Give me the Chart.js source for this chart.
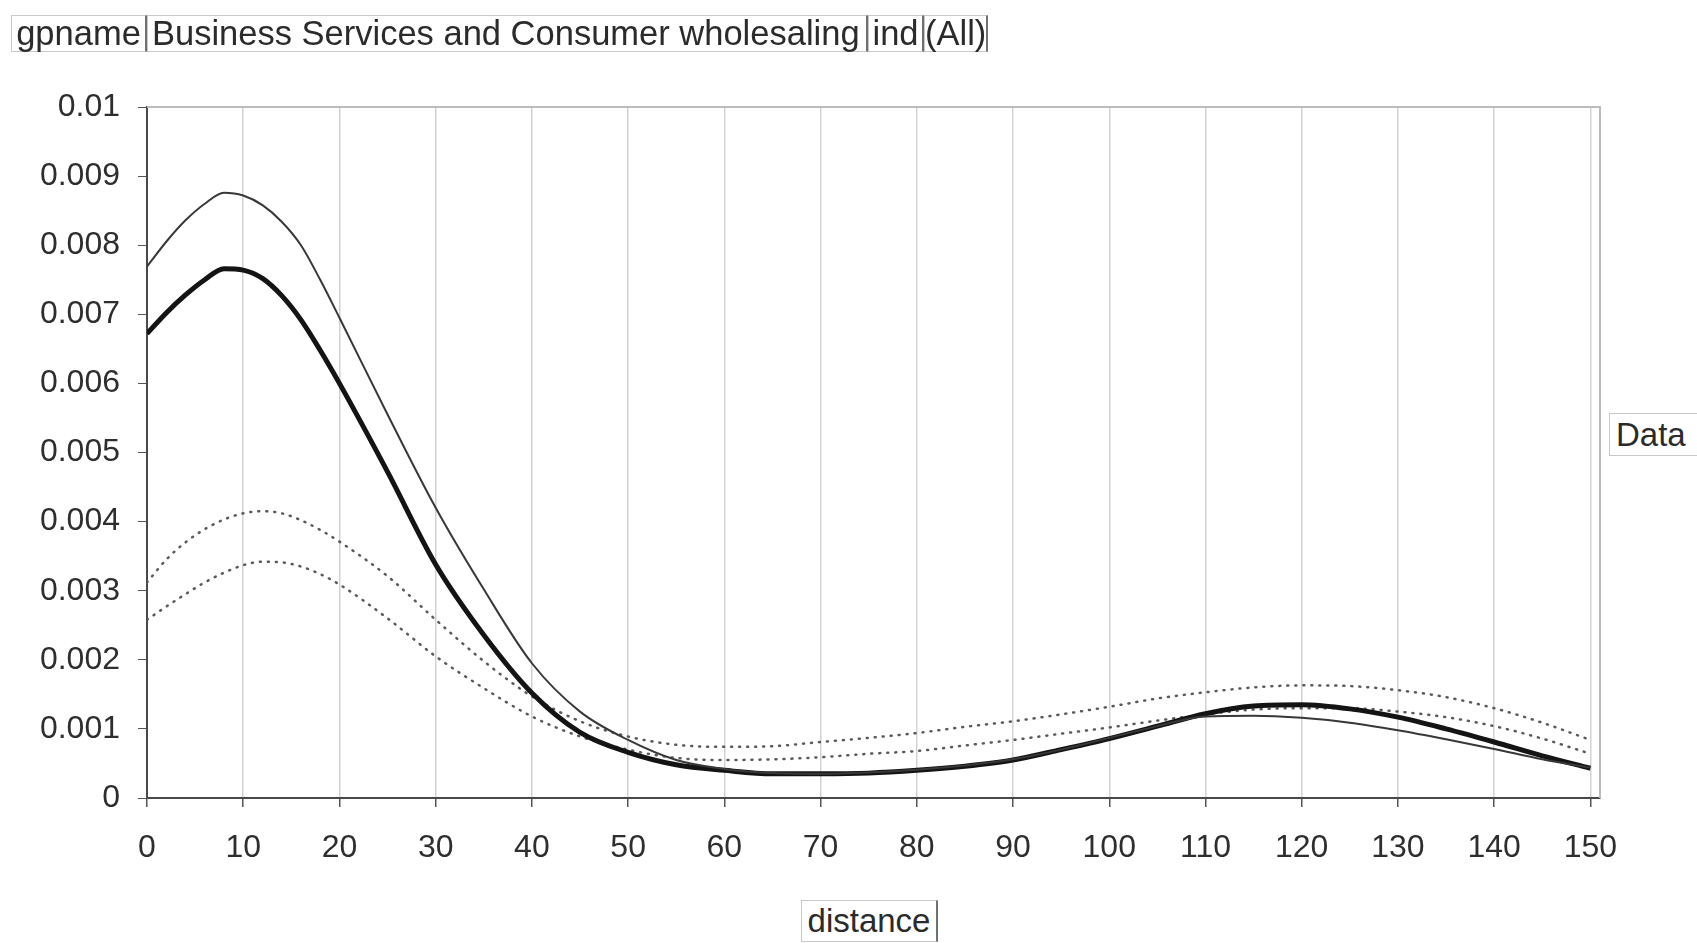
<!DOCTYPE html>
<html>
<head>
<meta charset="utf-8">
<title>gpname - distance</title>
<script src="https://cdn.jsdelivr.net/npm/chart.js@4.4.1/dist/chart.umd.min.js"></script>
<style>
  html, body { margin: 0; padding: 0; overflow: hidden; background: #fff; }
  #wrap { position: relative; width: 1697px; height: 943px; overflow: hidden;
          font-family: "Liberation Sans", Arial, sans-serif; color: #2b2b2b; }
  #wrap canvas { position: absolute; left: 0; top: 0; }
  .btn { position: absolute; box-sizing: border-box; white-space: nowrap; background: #fff;
         border: 1px solid #c8c8c8; border-right: 2px solid #707070; text-align: center; }
  .hdr { top: 15px; height: 37px; line-height: 35px; font-size: 34.5px; }
</style>
</head>
<body>
<div id="wrap">
  <canvas id="myChart"></canvas>
  <div class="btn hdr" style="left:11px; width:136px;">gpname</div>
  <div class="btn hdr" style="left:147px; width:721px; text-align:left; padding-left:4px;">Business Services and Consumer wholesaling</div>
  <div class="btn hdr" style="left:868px; width:56px;">ind</div>
  <div class="btn hdr" style="left:924px; width:64px;">(All)</div>
  <div class="btn" style="left:1609px; top:413px; width:100px; height:43px; line-height:41px; font-size:33px; text-align:left; padding-left:6px;">Data</div>
  <div class="btn" style="left:801px; top:900px; width:137px; height:42px; line-height:40px; font-size:33px;">distance</div>
</div>
<script>
// distance (x values)
const distance = [0, 2, 4, 6, 8, 10, 12, 14, 16, 18, 20, 25, 30, 35, 40, 45, 50, 55, 60, 65, 70, 75, 80, 85, 90,
                  95, 100, 105, 110, 115, 120, 125, 130, 135, 140, 145, 150];

// thin solid line
const thinLine = [0.00769, 0.00805, 0.00836, 0.00860, 0.00876, 0.00872, 0.00858, 0.00834, 0.00800, 0.00750, 0.00695,
                  0.00555, 0.00420, 0.00302, 0.00195, 0.00125, 0.00084, 0.00055, 0.00042, 0.00036, 0.00035,
                  0.00037, 0.00041, 0.00047, 0.00056, 0.00070, 0.00087, 0.00104, 0.00118, 0.00119, 0.00116,
                  0.00109, 0.00098, 0.00085, 0.00071, 0.00056, 0.00044];

// thick solid line
const thickLine = [0.00672, 0.00702, 0.00728, 0.00750, 0.00766, 0.00764, 0.00752, 0.00727, 0.00692, 0.00648, 0.00600,
                   0.00472, 0.00338, 0.00236, 0.00152, 0.00095, 0.00066, 0.00048, 0.00040, 0.00035, 0.00035,
                   0.00036, 0.00040, 0.00046, 0.00055, 0.00070, 0.00086, 0.00104, 0.00122, 0.00133, 0.00135,
                   0.00129, 0.00117, 0.00100, 0.00081, 0.00061, 0.00043];

// dotted lines (upper / lower)
const dotUpper = [0.00312, 0.00345, 0.00370, 0.00389, 0.00403, 0.00412, 0.00415, 0.00412, 0.00402, 0.00388, 0.00371,
                  0.00321, 0.00258, 0.00198, 0.00147, 0.00111, 0.00089, 0.00077, 0.00074, 0.00075, 0.00081,
                  0.00087, 0.00094, 0.00103, 0.00111, 0.00121, 0.00132, 0.00144, 0.00153, 0.00160, 0.00163,
                  0.00162, 0.00156, 0.00146, 0.00130, 0.00109, 0.00084];

const dotLower = [0.00258, 0.00277, 0.00295, 0.00312, 0.00326, 0.00337, 0.00342, 0.00341, 0.00335, 0.00324, 0.00309,
                  0.00260, 0.00205, 0.00159, 0.00118, 0.00089, 0.00070, 0.00058, 0.00055, 0.00056, 0.00059,
                  0.00064, 0.00068, 0.00076, 0.00084, 0.00093, 0.00102, 0.00112, 0.00121, 0.00128, 0.00130,
                  0.00130, 0.00125, 0.00117, 0.00104, 0.00086, 0.00064];

// tick labels
const xTicks = [0, 10, 20, 30, 40, 50, 60, 70, 80, 90, 100, 110, 120, 130, 140, 150];
const yTicks = [0, 0.001, 0.002, 0.003, 0.004, 0.005, 0.006, 0.007, 0.008, 0.009, 0.01];
const yTickLabels = ['0', '0.001', '0.002', '0.003', '0.004', '0.005', '0.006', '0.007', '0.008', '0.009', '0.01'];

function pts(arr) {
    return distance.map((d, i) => ({ x: d, y: arr[i] }));
}

// plot frame (top and right edges)
const frame = {
    id: 'frame',
    beforeDatasetsDraw(chart) {
        const a = chart.chartArea, c = chart.ctx;
        c.save();
        c.strokeStyle = '#bcbcbc';
        c.lineWidth = 2;
        c.beginPath();
        c.moveTo(a.left, a.top);
        c.lineTo(a.right, a.top);
        c.lineTo(a.right, a.bottom);
        c.stroke();
        c.restore();
    }
};

const tickFont = { family: '"Liberation Sans", Arial, sans-serif', size: 32 };

const ctx = document.getElementById('myChart').getContext('2d');
const myChart = new Chart(ctx, {
    type: 'line',
    data: {
        datasets: [
            { label: 'thin', data: pts(thinLine), borderColor: '#383838', borderWidth: 2 },
            { label: 'thick', data: pts(thickLine), borderColor: '#141414', borderWidth: 5 },
            { label: 'upper', data: pts(dotUpper), borderColor: '#5a5a5a', borderWidth: 2.5,
              borderDash: [1, 7], borderCapStyle: 'round' },
            { label: 'lower', data: pts(dotLower), borderColor: '#5a5a5a', borderWidth: 2.5,
              borderDash: [1, 7], borderCapStyle: 'round' }
        ]
    },
    options: {
        responsive: true,
        maintainAspectRatio: false,
        animation: false,
        layout: { padding: { left: 0, top: 107, right: 97, bottom: 0 } },
        elements: {
            point: { radius: 0 },
            line: { cubicInterpolationMode: 'monotone', fill: false }
        },
        plugins: { legend: { display: false }, tooltip: { enabled: false } },
        scales: {
            x: {
                type: 'linear',
                min: 0,
                max: 151,
                afterBuildTicks: s => { s.ticks = xTicks.map(v => ({ value: v })); },
                afterFit: s => { s.height = 145; },
                ticks: { font: tickFont, color: '#2e2e2e', padding: 22, maxRotation: 0,
                         autoSkip: false, callback: v => String(v) },
                grid: { color: '#d2d2d2', lineWidth: 1.5, tickColor: '#555', tickLength: 9 },
                border: { color: '#4a4a4a', width: 2 }
            },
            y: {
                min: 0,
                max: 0.01,
                afterBuildTicks: s => { s.ticks = yTicks.map(v => ({ value: v })); },
                afterFit: s => { s.width = 147; },
                ticks: { font: tickFont, color: '#2e2e2e', padding: 18,
                         callback: (v, i) => yTickLabels[i] },
                grid: { color: 'rgba(0,0,0,0)', tickColor: '#555', tickLength: 9 },
                border: { color: '#4a4a4a', width: 2 }
            }
        }
    },
    plugins: [frame]
});
</script>
</body>
</html>
